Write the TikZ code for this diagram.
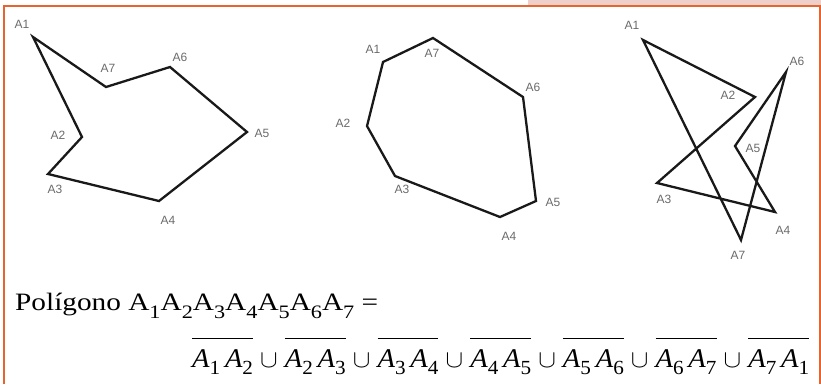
\documentclass[tikz,border=0pt]{standalone}
\usepackage{fontspec}
\usepackage{graphicx}
\setmainfont{Liberation Serif}
\newfontfamily\labelfont{Liberation Sans}
\usepackage{tikz}
\usetikzlibrary{positioning}
\definecolor{frameorange}{HTML}{E5642F}
\definecolor{tabpink}{HTML}{EFCFC9}
\definecolor{labelgray}{HTML}{6A6A6A}
\newcommand{\lowsub}[3]{\raisebox{-#2pt}{\fontsize{#3}{#3}\selectfont\upshape #1}}
\newcommand{\vtx}[1]{A\lowsub{#1}{8}{19}}
\newcommand{\seg}[2]{\vbox{\hrule height 1.3pt\kern 10pt
  \hbox{\itshape A\lowsub{#1}{7}{20}\,A\lowsub{#2}{7}{20}}}}

\begin{document}
\begin{tikzpicture}[
  x=1pt,y=-1pt,
  side/.style={line width=2.3pt,line join=miter,black!90},
  vlabel/.style={text=labelgray,font=\labelfont\fontsize{12}{13}\selectfont,inner sep=0pt},
  formula/.style={inner sep=0pt,anchor=base west}
]
\useasboundingbox (0,0) rectangle (821,384);
% frame
\fill[tabpink] (528,0) rectangle (821,5);
\draw[frameorange,line width=2.2pt] (4,384) -- (4,6) -- (820,6) -- (820,384);

% first polygon
\coordinate (pa1) at (33,37);
\coordinate (pa2) at (82,137);
\coordinate (pa3) at (48,174);
\coordinate (pa4) at (159,201);
\coordinate (pa5) at (247,132);
\coordinate (pa6) at (170,67);
\coordinate (pa7) at (106,87);
\draw[side] (pa1) -- (pa2) -- (pa3) -- (pa4) -- (pa5) -- (pa6) -- (pa7) -- cycle;
\node[vlabel] (la1) at (22,24) {A1};
\node[vlabel] (la2) at (58,135) {A2};
\node[vlabel] (la3) at (55,189) {A3};
\node[vlabel] (la4) at (168,220) {A4};
\node[vlabel] (la5) at (262,133) {A5};
\node[vlabel] (la6) at (180,57) {A6};
\node[vlabel] (la7) at (108,68) {A7};

% second polygon
\coordinate (pb1) at (383,62);
\coordinate (pb2) at (367,126);
\coordinate (pb3) at (395,176);
\coordinate (pb4) at (500,217);
\coordinate (pb5) at (536,201);
\coordinate (pb6) at (523,97);
\coordinate (pb7) at (433,38);
\draw[side] (pb1) -- (pb2) -- (pb3) -- (pb4) -- (pb5) -- (pb6) -- (pb7) -- cycle;
\node[vlabel] (lb1) at (373,49) {A1};
\node[vlabel] (lb2) at (343,123) {A2};
\node[vlabel] (lb3) at (402,189) {A3};
\node[vlabel] (lb4) at (509,236) {A4};
\node[vlabel] (lb5) at (553,202) {A5};
\node[vlabel] (lb6) at (533,87) {A6};
\node[vlabel] (lb7) at (432,53) {A7};

% third polygon
\coordinate (pc1) at (643,40);
\coordinate (pc2) at (755,97);
\coordinate (pc3) at (657,183);
\coordinate (pc4) at (775,212);
\coordinate (pc5) at (735,146);
\coordinate (pc6) at (786,72);
\coordinate (pc7) at (741,240);
\draw[side] (pc1) -- (pc2) -- (pc3) -- (pc4) -- (pc5) -- (pc6) -- (pc7) -- cycle;
\node[vlabel] (lc1) at (632,25) {A1};
\node[vlabel] (lc2) at (728,95) {A2};
\node[vlabel] (lc3) at (664,199) {A3};
\node[vlabel] (lc4) at (783,230) {A4};
\node[vlabel] (lc5) at (753,148) {A5};
\node[vlabel] (lc6) at (797,61) {A6};
\node[vlabel] (lc7) at (738,255) {A7};

% definition
\node[formula] (def) at (15,310) {\resizebox{363pt}{\height}{\fontsize{25}{28}\selectfont
  Polígono \vtx1\vtx2\vtx3\vtx4\vtx5\vtx6\vtx7 =}};
\node[formula] (union) at (192,367) {\resizebox{617pt}{\height}{\fontsize{27}{30}\selectfont
  \seg12 $\cup$ \seg23 $\cup$ \seg34 $\cup$ \seg45 $\cup$ \seg56 $\cup$ \seg67 $\cup$ \seg71}};
\end{tikzpicture}
\end{document}
